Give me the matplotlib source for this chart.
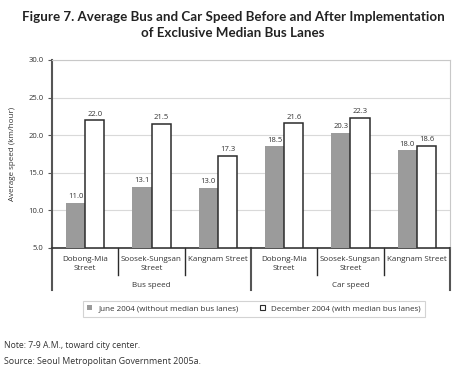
import numpy as np
import matplotlib
matplotlib.use("Agg")
import matplotlib.pyplot as plt
from matplotlib.patches import Patch

# data
streets = ["Dobong-Mia\nStreet", "Soosek-Sungsan\nStreet", "Kangnam Street",
           "Dobong-Mia\nStreet", "Soosek-Sungsan\nStreet", "Kangnam Street"]
groups = ["Bus speed", "Car speed"]
june_2004 = [11.0, 13.1, 13.0, 18.5, 20.3, 18.0]
dec_2004 = [22.0, 21.5, 17.3, 21.6, 22.3, 18.6]
yticks = [5.0, 10.0, 15.0, 20.0, 25.0, 30.0]

plt.rcParams["font.family"] = ["Open Sans", "DejaVu Sans"]

fig = plt.figure(figsize=(4.67, 3.74), dpi=100)
ax = fig.add_axes([52 / 467, 1 - 248 / 374, 398 / 467, 188 / 374])

x = np.arange(len(streets))
w = 0.29
gray = "#9b9b9b"
dark = "#2b2b2b"

ax.bar(x - w / 2, np.array(june_2004) - 5.0, w, bottom=5.0, color=gray, edgecolor="none", zorder=3)
ax.bar(x + w / 2, np.array(dec_2004) - 5.0, w, bottom=5.0, color="white", edgecolor=dark,
       linewidth=1.1, zorder=3)

for xi, v in zip(x - w / 2, june_2004):
    ax.text(xi, v + 0.35, f"{v:.1f}", ha="center", va="bottom", fontsize=5.5, color="#333333")
for xi, v in zip(x + w / 2, dec_2004):
    ax.text(xi, v + 0.35, f"{v:.1f}", ha="center", va="bottom", fontsize=5.5, color="#333333")

ax.set_xlim(-0.5, len(streets) - 0.5)
ax.set_ylim(5.0, 30.0)
ax.set_yticks(yticks)
ax.set_yticklabels([f"{t:.1f}" for t in yticks], fontsize=5.5, color="#333333")
ax.set_xticks([])
ax.tick_params(axis="y", length=3, width=0.8, color="#555555", pad=3)
ax.set_ylabel("Average speed (km/hour)", fontsize=5.8, color="#333333", labelpad=9)

ax.grid(True, axis="y", color="#d9d9d9", linewidth=0.8, zorder=0)
ax.set_axisbelow(True)
for s in ["top", "right"]:
    ax.spines[s].set_color("#c8c8c8")
    ax.spines[s].set_linewidth(0.8)
ax.spines["left"].set_color("#555555")
ax.spines["left"].set_linewidth(1.5)
ax.spines["bottom"].set_color("#333333")
ax.spines["bottom"].set_linewidth(1.2)

# category labels and separators below the axis
tr = ax.get_xaxis_transform()
for xi, lab in zip(x, streets):
    ax.text(xi, -0.04, lab, transform=tr, ha="center", va="top", fontsize=5.8,
            color="#333333", linespacing=1.45)
for b in [0.5, 1.5, 3.5, 4.5]:
    ax.plot([b, b], [0, -0.145], transform=tr, color=dark, linewidth=1.0, clip_on=False)
for b in [-0.5, 2.5, 5.5]:
    ax.plot([b, b], [0, -0.225], transform=tr, color="#555555", linewidth=1.5, clip_on=False)
for gi, g in enumerate(groups):
    ax.text(1 + 3 * gi, -0.197, g, transform=tr, ha="center", va="center", fontsize=5.8, color="#333333")

handles = [Patch(facecolor=gray, edgecolor="none"),
           Patch(facecolor="white", edgecolor=dark, linewidth=0.8)]
leg = fig.legend(handles, ["June 2004 (without median bus lanes)", "December 2004 (with median bus lanes)"],
                 loc="center", bbox_to_anchor=(254 / 467, 1 - 309 / 374), ncol=2, fontsize=5.8,
                 frameon=True, fancybox=False, handlelength=0.6, handleheight=0.6,
                 columnspacing=2.6, handletextpad=0.8, borderpad=0.55)
leg.get_frame().set_edgecolor("#c8c8c8")
leg.get_frame().set_linewidth(0.8)
for t in leg.get_texts():
    t.set_color("#333333")

title_font = ["Lato", "DejaVu Sans"]
fig.text(233 / 467, 1 - 17 / 374, "Figure 7. Average Bus and Car Speed Before and After Implementation",
         ha="center", va="center", fontsize=9.6, fontweight="bold", color="#222222", family=title_font)
fig.text(233 / 467, 1 - 33 / 374, "of Exclusive Median Bus Lanes",
         ha="center", va="center", fontsize=9.6, fontweight="bold", color="#222222", family=title_font)

fig.text(4 / 467, 1 - 346 / 374, "Note: 7-9 A.M., toward city center.", ha="left", va="center",
         fontsize=6.2, color="#333333")
fig.text(4 / 467, 1 - 362 / 374, "Source: Seoul Metropolitan Government 2005a.", ha="left", va="center",
         fontsize=6.4, color="#333333")

fig.savefig("out.png", dpi=100)
